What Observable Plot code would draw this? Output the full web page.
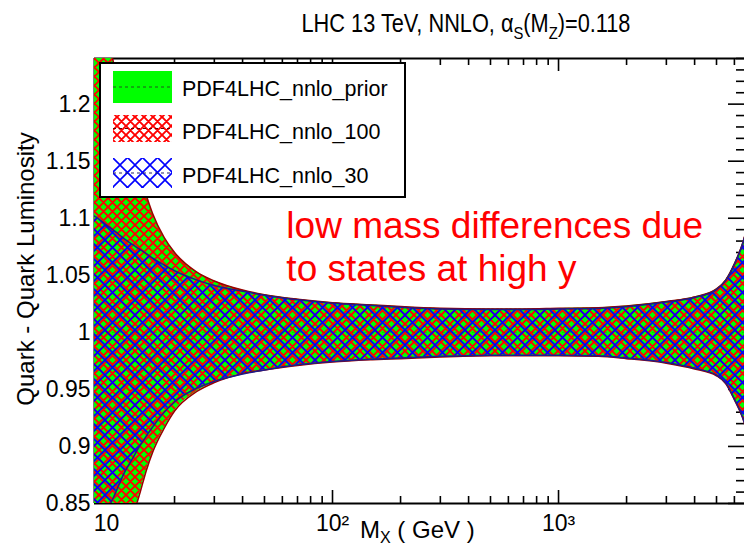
<!DOCTYPE html>
<html>
<head>
<meta charset="utf-8">
<script src="https://cdn.jsdelivr.net/npm/d3@7"></script>
<script src="https://cdn.jsdelivr.net/npm/@observablehq/plot@0.6"></script>
<style>
  body { margin: 0; background: #fff; }
  #chart svg { display: block; }
</style>
</head>
<body>
<div id="chart"></div>
<script>
// ---------- data ----------
const massGeV = [8.8, 9, 10, 11, 12, 13, 14, 15, 16, 18, 20, 25, 30, 40, 50, 70, 100, 150, 200, 300, 500, 700, 1000, 1500, 2000, 3000, 4000, 5000, 5500, 6000, 6500, 7000];

const priorUp = [1.34, 1.325, 1.268, 1.226, 1.192, 1.163, 1.139, 1.120, 1.104, 1.083, 1.070, 1.053, 1.045, 1.037, 1.033, 1.029, 1.026, 1.024, 1.0225, 1.021, 1.0205, 1.0205, 1.021, 1.0215, 1.023, 1.027, 1.031, 1.038, 1.046, 1.060, 1.077, 1.100];
const priorLo = [0.68, 0.70, 0.76, 0.80, 0.823, 0.838, 0.858, 0.879, 0.895, 0.916, 0.931, 0.948, 0.956, 0.964, 0.967, 0.971, 0.974, 0.976, 0.977, 0.9785, 0.9795, 0.9795, 0.9795, 0.979, 0.977, 0.973, 0.968, 0.962, 0.955, 0.941, 0.926, 0.905];

const n100Up = [1.338, 1.323, 1.266, 1.225, 1.191, 1.162, 1.138, 1.119, 1.103, 1.082, 1.0695, 1.0525, 1.0447, 1.0368, 1.0328, 1.0289, 1.0259, 1.0239, 1.0224, 1.0209, 1.0204, 1.0204, 1.0209, 1.0214, 1.0229, 1.0269, 1.0309, 1.0378, 1.0458, 1.0598, 1.0768, 1.0998];
const n100Lo = [0.682, 0.702, 0.762, 0.801, 0.824, 0.839, 0.859, 0.880, 0.8955, 0.9165, 0.9313, 0.9483, 0.9563, 0.9642, 0.9672, 0.9711, 0.9741, 0.9761, 0.9771, 0.9786, 0.9796, 0.9796, 0.9796, 0.9791, 0.9771, 0.9731, 0.9681, 0.9622, 0.9552, 0.9412, 0.9262, 0.9052];

const n30Up = [1.102, 1.101, 1.094, 1.088, 1.082, 1.077, 1.073, 1.069, 1.065, 1.059, 1.054, 1.046, 1.041, 1.036, 1.0325, 1.0285, 1.0255, 1.0235, 1.022, 1.0205, 1.020, 1.020, 1.0205, 1.021, 1.0225, 1.0265, 1.0305, 1.0375, 1.0455, 1.0595, 1.0765, 1.0995];
const n30Lo = [0.79, 0.80, 0.84, 0.860, 0.877, 0.889, 0.900, 0.909, 0.917, 0.930, 0.939, 0.951, 0.957, 0.9635, 0.967, 0.9715, 0.9745, 0.9765, 0.9775, 0.979, 0.980, 0.980, 0.980, 0.9795, 0.9775, 0.9735, 0.9685, 0.9625, 0.9555, 0.9415, 0.9265, 0.9055];

const centralValue = [1.0];

const xMajorTicks = [10, 100, 1000];
const xMajorLabels = ["10", "10\u00b2", "10\u00b3"];
const xMinorTicks = [9, 20, 30, 40, 50, 60, 70, 80, 90, 200, 300, 400, 500, 600, 700, 800, 900, 2000, 3000, 4000, 5000, 6000];

const yMajorTicks = [0.85, 0.9, 0.95, 1.0, 1.05, 1.1, 1.15, 1.2];
const yMajorLabels = ["0.85", "0.9", "0.95", "1", "1.05", "1.1", "1.15", "1.2"];
const yMinorTicks = [0.86, 0.87, 0.88, 0.89, 0.91, 0.92, 0.93, 0.94, 0.96, 0.97, 0.98, 0.99, 1.01, 1.02, 1.03, 1.04, 1.06, 1.07, 1.08, 1.09, 1.11, 1.12, 1.13, 1.14, 1.16, 1.17, 1.18, 1.19, 1.21, 1.22, 1.23, 1.24];

const legendNames = ["PDF4LHC_nnlo_prior", "PDF4LHC_nnlo_100", "PDF4LHC_nnlo_30"];
const noteLines = ["low mass differences due", "to states at high y"];
const noteX = [62.5, 62.5];
const noteY = [1.0831, 1.0454];

const yTitle = "Quark - Quark Luminosity";

// ---------- layout ----------
const W = 744, H = 553;
const mL = 94, mR = 0, mT = 58, mB = 50;
const xDomain = [8.85, 6650];
const yDomain = [0.85, 1.24];
const innerW = W - mL - mR, innerH = H - mT - mB;
const pxPerDecade = innerW / Math.log10(xDomain[1] / xDomain[0]);
const yPerPx = (yDomain[1] - yDomain[0]) / innerH;
const xLeftOf = (px) => xDomain[1] / Math.pow(10, px / pxPerDecade);

const rows = massGeV.map((m, i) => ({
  m, pu: priorUp[i], pl: priorLo[i], hu: n100Up[i], hl: n100Lo[i], tu: n30Up[i], tl: n30Lo[i]
}));

const FONT = "'Liberation Sans', Arial, Helvetica, sans-serif";

const plot = Plot.plot({
  width: W, height: H,
  marginLeft: mL, marginRight: mR, marginTop: mT, marginBottom: mB,
  x: {type: "log", domain: xDomain, axis: null},
  y: {domain: yDomain, axis: null},
  style: {fontFamily: FONT, background: "white", overflow: "visible"},
  marks: [
    // ticks (drawn under bands, like ROOT)
    Plot.ruleX(xMinorTicks, {y1: yDomain[0], y2: yDomain[0] + 7 * yPerPx, stroke: "black", strokeWidth: 1.6}),
    Plot.ruleX(xMajorTicks, {y1: yDomain[0], y2: yDomain[0] + 13 * yPerPx, stroke: "black", strokeWidth: 1.6}),
    Plot.ruleX(xMinorTicks, {y1: yDomain[1] - 7 * yPerPx, y2: yDomain[1], stroke: "black", strokeWidth: 1.6}),
    Plot.ruleX(xMajorTicks, {y1: yDomain[1] - 13 * yPerPx, y2: yDomain[1], stroke: "black", strokeWidth: 1.6}),
    Plot.ruleY(yMinorTicks, {x1: xLeftOf(8), x2: xDomain[1], stroke: "black", strokeWidth: 1.6}),
    Plot.ruleY(yMajorTicks, {x1: xLeftOf(16), x2: xDomain[1], stroke: "black", strokeWidth: 1.6}),
    Plot.ruleY([yDomain[0]], {stroke: "black", strokeWidth: 2}),
    Plot.ruleY([yDomain[1]], {stroke: "black", strokeWidth: 2}),
    Plot.ruleX([xDomain[0]], {stroke: "black", strokeWidth: 2}),
    // bands
    Plot.areaY(rows, {x: "m", y1: "pl", y2: "pu", fill: "#00ff00", clip: true, curve: "monotone-x"}),
    Plot.areaY(rows, {x: "m", y1: "hl", y2: "hu", fill: "url(#pRed)", clip: true, curve: "monotone-x"}),
    Plot.areaY(rows, {x: "m", y1: "tl", y2: "tu", fill: "url(#pBlue)", clip: true, curve: "monotone-x"}),
    Plot.ruleY(centralValue, {stroke: "#333", strokeOpacity: 0.3, strokeDasharray: "3,3", strokeWidth: 1}),
    Plot.lineY(rows, {x: "m", y: "pu", stroke: "#9a0000", strokeWidth: 1.6, clip: true, curve: "monotone-x"}),
    Plot.lineY(rows, {x: "m", y: "pl", stroke: "#9a0000", strokeWidth: 1.6, clip: true, curve: "monotone-x"}),
    Plot.lineY(rows, {x: "m", y: "tu", stroke: "#1c1c8c", strokeWidth: 1.5, clip: true, curve: "monotone-x"}),
    Plot.lineY(rows, {x: "m", y: "tl", stroke: "#1c1c8c", strokeWidth: 1.5, clip: true, curve: "monotone-x"}),
    // tick labels
    Plot.text(xMajorTicks, {x: d => d, y: yDomain[0], text: (d, i) => xMajorLabels[i], dy: 27, lineAnchor: "bottom", textAnchor: "middle", fontSize: 23, fill: "black"}),
    Plot.text(yMajorTicks, {x: xDomain[0], y: d => d, text: (d, i) => yMajorLabels[i], textAnchor: "end", dx: -4, lineAnchor: "middle", fontSize: 23, fill: "black"}),
    // annotation
    Plot.text(noteLines, {x: (d, i) => noteX[i], y: (d, i) => noteY[i], text: d => d, textAnchor: "start", lineAnchor: "bottom", fontSize: 37, fill: "#ff0000"}),
    // y axis title
    Plot.text([yTitle], {frameAnchor: "left", text: d => d, rotate: -90, dx: -61, dy: -12, textAnchor: "middle", lineAnchor: "bottom", fontSize: 24, fill: "black"})
  ]
});

document.getElementById("chart").appendChild(plot);

const svg = d3.select(plot);
// patterns
const defs = svg.insert("defs", ":first-child");
const pr = defs.append("pattern").attr("id", "pRed").attr("patternUnits", "userSpaceOnUse").attr("width", 9).attr("height", 9);
pr.append("path").attr("d", "M0,0L9,9M9,0L0,9M-1,8L1,10M8,-1L10,1").attr("stroke", "#ff0000").attr("stroke-width", 1.9).attr("fill", "none");
const pb = defs.append("pattern").attr("id", "pBlue").attr("patternUnits", "userSpaceOnUse").attr("width", 15).attr("height", 15);
pb.append("path").attr("d", "M0,0L15,15M15,0L0,15").attr("stroke", "#0000ff").attr("stroke-width", 1.6).attr("fill", "none");

// title (ROOT Helvetica looks tall and narrow: scale horizontally)
const title = svg.append("text").attr("transform", "translate(466,32) scale(0.87,1)").attr("text-anchor", "middle")
  .attr("font-family", FONT).attr("font-size", 25).attr("fill", "black");
title.append("tspan").text("LHC 13 TeV, NNLO, \u03b1");
title.append("tspan").attr("font-size", 17).attr("dy", 7).text("S");
title.append("tspan").attr("dy", -7).text("(M");
title.append("tspan").attr("font-size", 17).attr("dy", 7).text("Z");
title.append("tspan").attr("dy", -7).text(")=0.118");

// x axis title
const xt = svg.append("text").attr("x", 360).attr("y", 538).attr("text-anchor", "start")
  .attr("font-family", FONT).attr("font-size", 24).attr("fill", "black");
xt.append("tspan").text("M");
xt.append("tspan").attr("font-size", 16).attr("dy", 5).text("X");
xt.append("tspan").attr("dy", -5).text(" ( GeV )");

// legend
const lg = svg.append("g").attr("font-family", FONT).attr("text-anchor", "start");
lg.append("rect").attr("x", 100).attr("y", 63).attr("width", 305).attr("height", 134).attr("fill", "white").attr("stroke", "black").attr("stroke-width", 2);
lg.append("rect").attr("x", 113).attr("y", 71).attr("width", 59).attr("height", 32).attr("fill", "#00ff00");
lg.append("line").attr("x1", 113).attr("x2", 172).attr("y1", 87).attr("y2", 87).attr("stroke", "#225522").attr("stroke-dasharray", "3,3");
lg.append("rect").attr("x", 113).attr("y", 115).attr("width", 59).attr("height", 27).attr("fill", "url(#pRed)");
lg.append("line").attr("x1", 113).attr("x2", 172).attr("y1", 128.5).attr("y2", 128.5).attr("stroke", "#660000").attr("stroke-dasharray", "3,3");
lg.append("rect").attr("x", 113).attr("y", 158).attr("width", 59).attr("height", 30).attr("fill", "url(#pBlue)");
lg.append("line").attr("x1", 113).attr("x2", 172).attr("y1", 173).attr("y2", 173).attr("stroke", "#222266").attr("stroke-dasharray", "3,3");
const legendBaselines = [96, 139, 183];
legendNames.forEach((name, i) => {
  lg.append("text").attr("x", 182).attr("y", legendBaselines[i]).attr("text-anchor", "start")
    .attr("font-size", 21.5).attr("fill", "black").text(name);
});
</script>
</body>
</html>
